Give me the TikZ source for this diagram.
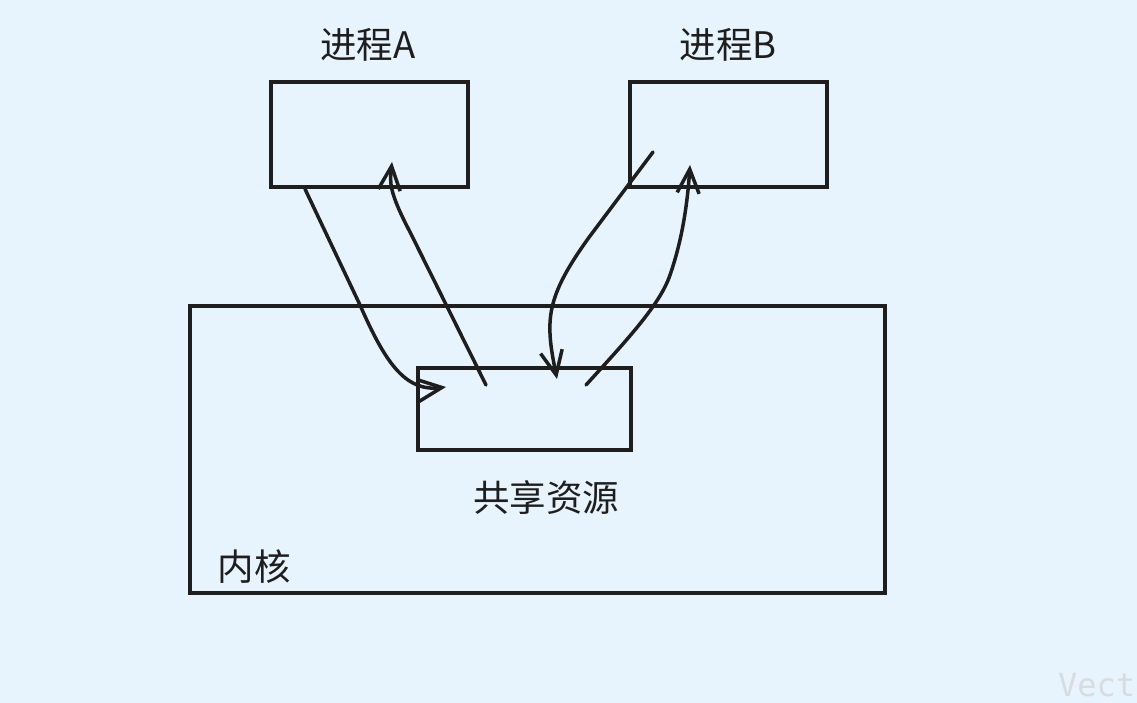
\documentclass[tikz,border=0pt]{standalone}
\usepackage{fontspec}
\newfontfamily\cjk{Noto Sans CJK SC}
\newfontfamily\wmfont{DejaVu Sans Mono}
\usetikzlibrary{arrows.meta}
\definecolor{bgc}{HTML}{E7F4FE}
\definecolor{ink}{HTML}{1E1E1E}
\definecolor{wm}{HTML}{D6DCE0}
\begin{document}
\begin{tikzpicture}[x=1pt,y=-1pt,
  box/.style={draw=ink,line width=3.5pt,inner sep=0pt,outer sep=0pt},
  lbl/.style={text=ink,font=\cjk\fontsize{36.5}{42}\selectfont,inner sep=0pt},
  conn/.style={draw=ink,line width=3.5pt,line cap=round,line join=round,-{Straight Barb[length=24pt,width=22pt,line width=3.5pt]}}]
\useasboundingbox (0,0) rectangle (1137,703);
\clip (0,0) rectangle (1137,703);
\fill[bgc] (0,0) rectangle (1137,703);
% boxes
\node[box,minimum width=197pt,minimum height=105pt] (pa) at (369.5,134.5) {};
\node[box,minimum width=197pt,minimum height=105pt] (pb) at (728.5,134.5) {};
\node[box,minimum width=695pt,minimum height=287pt] (kern) at (537.5,449.5) {};
\node[box,minimum width=213pt,minimum height=82pt] (shr) at (524.5,409) {};
% labels
\node[lbl] (la) at (368,45) {进程A};
\node[lbl] (lb) at (728,45) {进程B};
\node[lbl] (ls) at (546,498) {共享资源};
\node[lbl] (lk) at (254,567) {内核};
\node[text=wm,font=\wmfont\fontsize{32}{38}\selectfont,anchor=west,inner sep=0pt] (wmk) at (1058,685) {Vect};
% connector end points
\coordinate (a1) at (305,189);
\coordinate (s1) at (446,387);
\coordinate (s2) at (486,385);
\coordinate (a2) at (392,162);
\coordinate (b1) at (653,152);
\coordinate (s3) at (557,379);
\coordinate (s4) at (586,385);
\coordinate (b2) at (690,165);
% connectors
\draw[conn] (a1) -- (360,305) .. controls (385,362) and (405,392) .. (s1);
\draw[conn] (s2) -- (410,232) .. controls (388,190) and (390,182) .. (a2);
\draw[conn] (b1) -- (590,236) .. controls (545,298) and (545,320) .. (s3);
\draw[conn] (s4) .. controls (625,342) and (660,305) .. (670,275) .. controls (684,235) and (688,195) .. (b2);
\end{tikzpicture}
\end{document}
